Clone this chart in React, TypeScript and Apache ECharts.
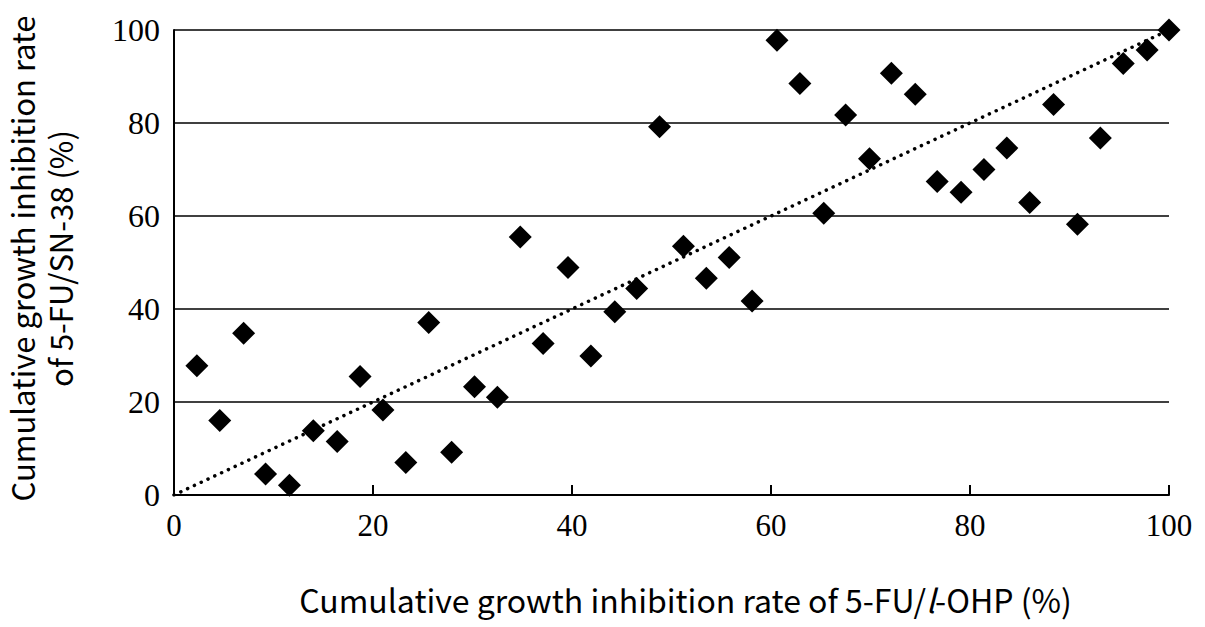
import React, { useEffect, useRef } from "react";
import * as echarts from "echarts";

const xValues = [2.3, 4.6, 7.0, 9.2, 11.6, 14.0, 16.4, 18.7, 21.0, 23.3, 25.6, 27.9, 30.2, 32.5, 34.8, 37.1, 39.6, 41.9, 44.3, 46.5, 48.8, 51.2, 53.5, 55.8, 58.1, 60.6, 62.9, 65.3, 67.5, 69.9, 72.1, 74.5, 76.7, 79.1, 81.4, 83.7, 86.0, 88.4, 90.8, 93.1, 95.4, 97.8, 100];
const yValues = [27.8, 16.0, 34.8, 4.5, 2.1, 13.8, 11.5, 25.5, 18.3, 7.0, 37.1, 9.2, 23.3, 21.0, 55.5, 32.6, 48.9, 29.9, 39.4, 44.4, 79.2, 53.5, 46.6, 51.1, 41.7, 97.8, 88.5, 60.6, 81.7, 72.3, 90.7, 86.2, 67.4, 65.1, 70.0, 74.6, 62.9, 84.0, 58.2, 76.8, 92.8, 95.7, 100];
const refLine = [[0, 0], [100, 100]];
const xTitle = "Cumulative growth inhibition rate of 5-FU/{i|l}-OHP (%)";
const yTitle = "Cumulative growth inhibition rate\nof 5-FU/SN-38 (%)";

export default function App() {
  const ref = useRef<HTMLDivElement>(null);
  useEffect(() => {
    const chart = echarts.init(ref.current!, null, { renderer: "svg" });
    const titleFont = { fontFamily: "Noto Sans CJK JP", fontSize: 32, color: "#000" };
    chart.setOption({
      animation: false,
      backgroundColor: "#fff",
      grid: { left: 174, right: 36, top: 30, bottom: 132, containLabel: false, outerBoundsMode: "none" },
      xAxis: {
        type: "value",
        min: 0,
        max: 100,
        interval: 20,
        name: xTitle,
        nameLocation: "middle",
        nameGap: 88,
        nameTextStyle: {
          ...titleFont,
          padding: [0, 0, 0, 28],
          rich: { i: { ...titleFont, fontStyle: "italic" } },
        },
        axisLine: { show: true, onZero: false, lineStyle: { color: "#000", width: 2 } },
        axisTick: { show: true, inside: true, length: 10, lineStyle: { color: "#000", width: 2 } },
        axisLabel: { margin: 15, fontFamily: "Liberation Serif", fontSize: 31, color: "#000" },
        splitLine: { show: false },
      },
      yAxis: {
        type: "value",
        min: 0,
        max: 100,
        interval: 20,
        name: yTitle,
        nameLocation: "middle",
        nameGap: 96,
        nameRotate: 90,
        nameTextStyle: { ...titleFont, fontSize: 31, lineHeight: 38, padding: [0, 0, 0, 8] },
        axisLine: { show: true, lineStyle: { color: "#000", width: 2 } },
        axisTick: { show: false },
        axisLabel: { margin: 14, fontFamily: "Liberation Serif", fontSize: 32, color: "#000" },
        splitLine: { show: true, lineStyle: { color: "#000", width: 1.5 } },
      },
      series: [
        {
          type: "line",
          data: refLine,
          symbol: "none",
          lineStyle: { color: "#000", width: 3.5, type: [0.1, 7.4], cap: "round" },
          z: 2,
        },
        {
          type: "scatter",
          data: xValues.map((x, i) => [x, yValues[i]]),
          symbol: "diamond",
          symbolSize: 23,
          itemStyle: { color: "#000", opacity: 1 },
          z: 3,
        },
      ],
    });
    return () => chart.dispose();
  }, []);
  return (
    <div
      ref={ref}
      style={{ position: "absolute", left: 0, top: 0, width: 1205, height: 627 }}
    />
  );
}
